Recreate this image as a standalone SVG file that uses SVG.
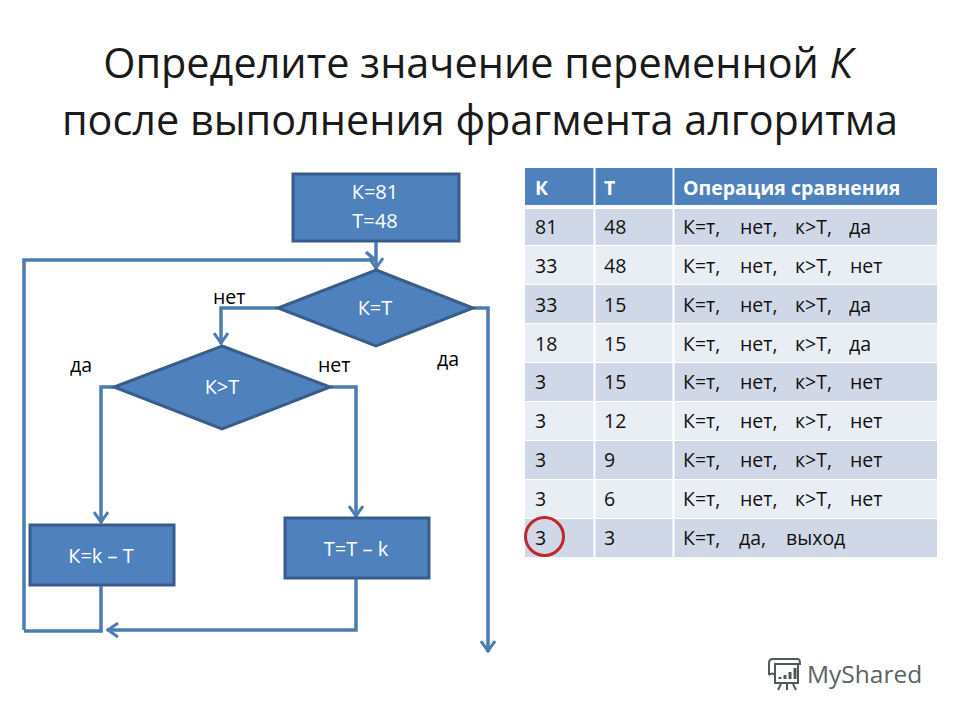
<svg xmlns="http://www.w3.org/2000/svg" width="960" height="720" viewBox="0 0 960 720">
<style>
text{font-family:"Open Sans","Noto Sans","DejaVu Sans",sans-serif}
.title{font-size:41.400px;fill:#1a1a1a;text-anchor:middle}
.node{fill:#4f81bd;stroke:#385d8a;stroke-width:3}
.nt{font-size:20px;fill:#fff;text-anchor:middle}
.lab{font-size:19.500px;fill:#000}
.conn{fill:none;stroke:#4a7eb0;stroke-width:3.500}
.h{fill:#4f81bd}.o{fill:#d0d8e8}.e{fill:#e9edf4}
.th{font-size:19.500px;font-weight:700;fill:#fff}
.td{font-size:19.500px;fill:#111}
.sep{stroke:#fff;stroke-width:2}
</style>
<defs>
<marker id="a" viewBox="0 0 14 16" refX="13" refY="8" markerWidth="14" markerHeight="16" markerUnits="userSpaceOnUse" orient="auto"><path d="M2 1L12 8L2 15" fill="none" stroke="#4a7eb0" stroke-width="3"/></marker>
</defs>
<rect width="960" height="720" fill="#fff"/>
<g id="title">
<text class="title" x="478" y="78">Определите значение переменной <tspan font-style="italic">К</tspan></text>
<text class="title" x="480" y="135">после выполнения фрагмента алгоритма</text>
</g>
<g id="connectors">
<path class="conn" d="M376 241V269" marker-end="url(#a)"/>
<path class="conn" d="M24 630V260H376"/>
<path class="conn" d="M366 252L374 259" stroke-width="3"/>
<path class="conn" d="M278 308H221V344" marker-end="url(#a)"/>
<path class="conn" d="M473 308H488V652" marker-end="url(#a)"/>
<path class="conn" d="M114 387H101V523" marker-end="url(#a)"/>
<path class="conn" d="M330 387H356V517" marker-end="url(#a)"/>
<path class="conn" d="M101 586V631H24"/>
<path class="conn" d="M356 579V630H107" marker-end="url(#a)"/>
</g>
<g id="start"><rect class="node" x="293" y="174" width="166" height="67"/><text class="nt" x="375" y="199">К=81</text><text class="nt" x="375" y="228">Т=48</text></g>
<g id="cond1"><path class="node" d="M376 270L473 308L376 346L278 308Z"/><text class="nt" x="375" y="315">К=Т</text></g>
<g id="cond2"><path class="node" d="M222 346L330 387L222 429L114 387Z"/><text class="nt" x="222" y="394">К&gt;Т</text></g>
<g id="stepK"><rect class="node" x="30" y="525" width="144" height="60"/><text class="nt" x="101" y="563">К=k – Т</text></g>
<g id="stepT"><rect class="node" x="285" y="518" width="144" height="60"/><text class="nt" x="356" y="556">Т=Т – k</text></g>
<g id="labels">
<text class="lab" x="213" y="304">нет</text>
<text class="lab" x="70" y="372">да</text>
<text class="lab" x="318" y="372">нет</text>
<text class="lab" x="437" y="366">да</text>
</g>
<g id="table">
<rect class="h" x="525" y="168" width="412" height="37"/>
<rect class="o" x="525" y="209" width="412" height="36"/>
<rect class="e" x="525" y="246" width="412" height="38"/>
<rect class="o" x="525" y="285" width="412" height="38"/>
<rect class="e" x="525" y="324" width="412" height="38"/>
<rect class="o" x="525" y="363" width="412" height="38"/>
<rect class="e" x="525" y="402" width="412" height="38"/>
<rect class="o" x="525" y="441" width="412" height="38"/>
<rect class="e" x="525" y="480" width="412" height="38"/>
<rect class="o" x="525" y="519" width="412" height="38"/>
<path class="sep" d="M594.500 168V557M673.500 168V557"/>
<text class="th" x="535" y="195">К</text><text class="th" x="604" y="195">Т</text><text class="th" x="683" y="195">Операция сравнения</text>
<text class="td" x="535" y="234">81</text><text class="td" x="604" y="234">48</text><text class="td" y="234"><tspan x="683">К=т,</tspan><tspan x="740">нет,</tspan><tspan x="795">к&gt;Т,</tspan><tspan x="849">да</tspan></text>
<text class="td" x="535" y="273">33</text><text class="td" x="604" y="273">48</text><text class="td" y="273"><tspan x="683">К=т,</tspan><tspan x="740">нет,</tspan><tspan x="795">к&gt;Т,</tspan><tspan x="850">нет</tspan></text>
<text class="td" x="535" y="312">33</text><text class="td" x="604" y="312">15</text><text class="td" y="312"><tspan x="683">К=т,</tspan><tspan x="740">нет,</tspan><tspan x="795">к&gt;Т,</tspan><tspan x="849">да</tspan></text>
<text class="td" x="535" y="351">18</text><text class="td" x="604" y="351">15</text><text class="td" y="351"><tspan x="683">К=т,</tspan><tspan x="740">нет,</tspan><tspan x="795">к&gt;Т,</tspan><tspan x="849">да</tspan></text>
<text class="td" x="535" y="389">3</text><text class="td" x="604" y="389">15</text><text class="td" y="389"><tspan x="683">К=т,</tspan><tspan x="740">нет,</tspan><tspan x="795">к&gt;Т,</tspan><tspan x="850">нет</tspan></text>
<text class="td" x="535" y="428">3</text><text class="td" x="604" y="428">12</text><text class="td" y="428"><tspan x="683">К=т,</tspan><tspan x="740">нет,</tspan><tspan x="795">к&gt;Т,</tspan><tspan x="850">нет</tspan></text>
<text class="td" x="535" y="467">3</text><text class="td" x="604" y="467">9</text><text class="td" y="467"><tspan x="683">К=т,</tspan><tspan x="740">нет,</tspan><tspan x="795">к&gt;Т,</tspan><tspan x="850">нет</tspan></text>
<text class="td" x="535" y="506">3</text><text class="td" x="604" y="506">6</text><text class="td" y="506"><tspan x="683">К=т,</tspan><tspan x="740">нет,</tspan><tspan x="795">к&gt;Т,</tspan><tspan x="850">нет</tspan></text>
<text class="td" x="535" y="545">3</text><text class="td" x="604" y="545">3</text><text class="td" y="545"><tspan x="683">К=т,</tspan><tspan x="739">да,</tspan><tspan x="786">выход</tspan></text>
<circle cx="544.500" cy="536.500" r="19" fill="none" stroke="#c0272d" stroke-width="3"/>
</g>
<g id="logo" fill="none" stroke="#4f5a58" stroke-width="2">
<path d="M769 675V663Q769 659 773 659H798Q800 659 800 664H775V683H798V664"/>
<path d="M769 675Q772 672 775 675"/>
<path d="M781 684L778 690M787 684V690M793 684L796 690"/>
<path d="M780 679V677M785 679V675M790 679V672M795 679V668" stroke-width="3"/>
<text x="807" y="683" font-size="24.500" fill="#5a6362" stroke="none">MyShared</text>
</g>
</svg>
